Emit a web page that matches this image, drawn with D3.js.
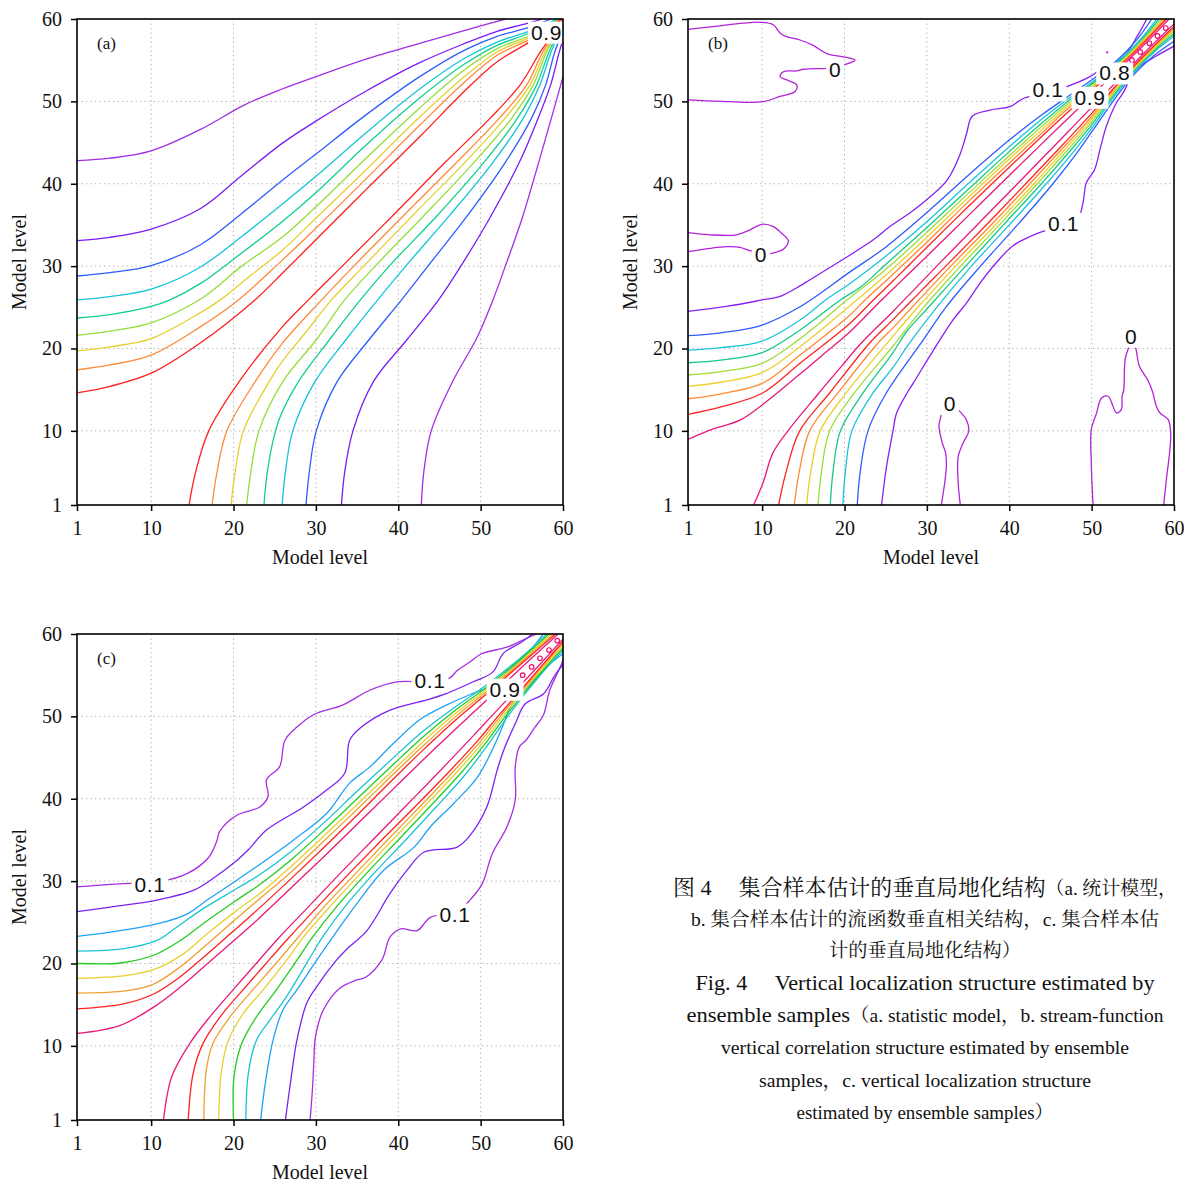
<!DOCTYPE html>
<html>
<head>
<meta charset="utf-8">
<script src="https://cdn.jsdelivr.net/npm/d3@7"></script>
<style>
  body { margin: 0; background: #fff; }
  svg { display: block; }
</style>
</head>
<body>
<svg id="fig" width="1192" height="1182"></svg>
<script>
// ---------------------------------------------------------------
// Axis ticks (model levels 1..60 on both axes)
// ---------------------------------------------------------------
const tickValues = [1, 10, 20, 30, 40, 50, 60];
const gridValues = [10, 20, 30, 40, 50];

// ---------------------------------------------------------------
// Contour lines: each array is the half above the diagonal
// (x = model level, y = model level). The correlation matrix is
// symmetric, so the lower half is the same line with x and y swapped.
// ---------------------------------------------------------------

// (a) statistic model, levels 0.1 .. 0.9
const aL1 = [[1,42.8],[5,43.1],[10,44.0],[16,46.6],[21.4,49.6],[25.9,51.5],[30,53.0],[36,55.1],[42.6,57.05],[48,58.6],[53,60]];
const aL2 = [[1,33.1],[5,33.5],[10,34.5],[16,37.0],[21,41.0],[25.9,44.9],[30,47.6],[36,51.2],[42.6,54.7],[48,57.0],[52,58.5],[56,59.55],[57.5,60]];
const aL3 = [[1,28.8],[5,29.2],[10,30.05],[16,32.6],[21,36.4],[25.9,40.4],[30,43.6],[36,48.3],[42.6,53.0],[48,56.2],[52,57.9],[56,59.0],[58.5,60]];
const aL4 = [[1,25.9],[5,26.3],[10,27.2],[16,29.9],[21,33.6],[25.9,37.5],[30,40.9],[36,46.1],[42.6,51.5],[48,55.2],[52,57.2],[56,58.55],[59.3,60]];
const aL5 = [[1,23.7],[5,24.1],[10,25.1],[12.3,25.9],[16,27.9],[21,31.6],[25.9,35.4],[30,38.9],[36,44.6],[42.6,50.4],[48,54.5],[52,56.8],[56,58.3],[59.6,60]];
const aL6 = [[1,21.6],[5,22.1],[10,23.1],[16,26.0],[21,30.0],[25.9,33.5],[30,37.2],[36,43.0],[42.6,49.2],[48,53.8],[52,56.4],[56,58.0],[59.7,60]];
const aL7 = [[1,19.7],[5,20.2],[10,21.2],[16,24.35],[18.4,25.9],[22,28.8],[25.9,31.9],[30,35.8],[36,41.6],[42.6,48.1],[48,53.0],[52,56.0],[56,57.8],[59.8,60]];
const aL8 = [[1,17.4],[5,18.0],[10,19.2],[16,22.65],[20.6,25.9],[25.9,30.7],[30,34.6],[36,40.5],[42.6,47.1],[48,52.3],[52,55.6],[56,57.55],[59.8,60]];
const aL9 = [[1,14.6],[5,15.4],[10,17.0],[16,20.7],[22.6,25.9],[25.9,29.1],[30,33.2],[36,39.2],[42.6,45.7],[48,51.2],[52,54.8],[56,57.25],[59.9,60]];
const aColors = ["#a12ee6","#7a1cf5","#2e5cff","#13c4da","#10cf8f","#95dd3c","#e6cf2e","#ff8a3a","#ff2020"];

// (b) stream-function correlation from the ensemble, levels 0 .. 0.9
const bZeroTop = [[1,58.75],[4.07,59.07],[7.7,59.5],[9.74,59.6],[11.36,59.3],[12.17,58.3],[12.98,57.85],[14.6,57.45],[16.2,56.8],[17.84,55.8],[19.85,55.4],[21.27,55.0],[19.85,54.4],[18.85,54.1],[17.84,54.0],[15.0,53.9],[14.2,53.7],[12.57,53.6],[12.17,53.0],[12.98,52.6],[14.2,52.0],[14.0,51.2],[12.17,50.6],[10.14,49.96],[6.1,49.96],[1,50.17]];
const bZeroMid = [[1,34.06],[3.67,33.8],[6.9,33.8],[8.53,34.4],[9.95,35.08],[11.36,34.79],[12.37,33.98],[13.18,33.1],[12.57,32.04],[11.36,31.6],[10.55,31.47],[8.53,31.87],[7.3,32.28],[5.7,32.36],[3.67,32.16],[1,31.75]];
const bL1 = [[1,24.5],[5.65,25.1],[10,25.89],[12.1,26.3],[14.6,27.6],[15.8,28.35],[19.8,30.8],[23.5,33.2],[25.5,34.8],[28,36.5],[30.5,38.5],[32.5,40.5],[34,43.5],[34.8,46.0],[35.5,48.2],[37.66,48.95],[40.1,49.35],[41.7,50.35],[44.5,51.1],[47.0,51.8],[49.8,53.0],[51.0,53.8],[53.85,55.4],[55.5,57.85],[56.7,60]];
const bL2 = [[1,21.55],[5,21.9],[10,22.85],[14.6,25.07],[20.67,29.3],[25,32.3],[30,36.5],[35,41.0],[40,45.3],[44,48.4],[47,50.5],[50,52.6],[53,54.9],[55.5,57.5],[57.3,60]];
const bL3 = [[1,19.8],[5,20.1],[10,20.9],[14.6,23.46],[17.7,25.89],[20.67,27.9],[25,31.2],[30,35.4],[35,40.0],[40,44.5],[44,47.9],[47,50.2],[50,52.3],[53,54.7],[56,57.6],[57.9,60]];
const bL4 = [[1,18.27],[5,18.6],[10,19.5],[14.6,22.25],[19.5,25.89],[22,27.5],[25,30.2],[30,34.7],[35,39.3],[40,43.9],[44,47.4],[47,49.9],[50,52.1],[53,54.5],[56,57.4],[58.2,60]];
const bL5 = [[1,16.78],[5,17.2],[10,18.2],[14.6,21.2],[20.3,25.89],[25,29.6],[30,34.1],[35,38.8],[40,43.4],[44,47.0],[47,49.6],[50,51.9],[53,54.3],[56,57.2],[58.5,60]];
const bL6 = [[1,15.4],[5,15.9],[10,17.06],[14.6,20.2],[21.5,25.89],[25,28.9],[30,33.5],[35,38.3],[40,43.0],[44,46.6],[47,49.3],[50,51.7],[53,54.2],[56,57.1],[58.7,60]];
const bL7 = [[1,13.9],[5,14.5],[10,15.77],[14.6,19.2],[20.67,24.07],[22.5,25.89],[25,28.2],[30,32.9],[35,37.8],[40,42.5],[44,46.2],[47,49.0],[50,51.5],[53,54.0],[56,56.9],[58.9,60]];
const bL8 = [[1,12.0],[5,12.9],[10,14.56],[14.6,18.2],[20.67,23.06],[23.5,25.89],[27,29.3],[30,32.3],[35,37.2],[40,42.0],[44,45.8],[47,48.6],[50,51.3],[53,53.9],[56,56.8],[59.1,60]];
const bL9 = [[1,8.97],[3.67,10.1],[7.3,11.3],[10,13.14],[14.6,16.9],[17.8,19.6],[20.67,22.04],[24.5,25.89],[27,28.3],[30,31.2],[35,36.1],[40,41.0],[44,44.9],[47,47.8],[50,50.7],[53,53.6],[56,56.5],[59.4,60]];
const bColors = ["#8a20f0","#2f5bff","#1ac3dc","#14c98a","#a0dc3a","#ecd02a","#ff8a33","#ff2222","#e8197a"];
const bZeroColor = "#b422d8";
const bLoops = [[54.9,55.0],[55.9,56.0],[57.0,57.05],[58.0,57.95],[59.0,58.9]];
const bDots = [[51.9,55.95]];

// (c) localization from the ensemble, levels 0.1 .. 0.9
const cL1 = [[1,29.3],[5,29.6],[8,29.75],[11.1,29.95],[14.35,30.9],[17.0,32.9],[18.0,34.95],[18.3,36.0],[20.4,38.0],[23.2,39.0],[24.2,40.3],[24.0,42.3],[25.6,43.9],[26.25,47.1],[27.7,48.7],[29.7,50.2],[33.3,51.4],[36.6,53.2],[39.8,54.2],[43.85,54.2],[46.3,54.7],[47.1,55.5],[48.7,56.6],[50.1,57.6],[53.2,58.4],[55.2,59.3],[56.8,60]];
const cL2 = [[1,26.3],[5.05,26.85],[10.7,27.7],[15.2,28.9],[17.2,30.1],[20.4,32.5],[21.8,33.8],[24.0,36.2],[28.5,39.0],[31.3,41.05],[33.5,43.1],[34.1,47.1],[35.35,48.55],[39.0,50.75],[43.45,52.0],[45.9,52.8],[49.1,54.2],[51.5,55.4],[52.75,57.65],[54.8,58.9],[56.3,60]];
const cL3 = [[1,23.3],[5.05,23.8],[10.7,24.8],[14.35,26.0],[16.8,27.7],[20.4,30.1],[24,32.6],[27.3,35.0],[31.3,38.2],[34.1,41.9],[36.6,43.9],[39.4,46.7],[42.6,49.6],[45.9,51.4],[49.1,52.8],[51.1,53.6],[53.5,55.6],[56,58.0],[57.6,60]];
const cL4 = [[1,21.5],[6.67,21.8],[10.7,22.8],[13.1,24.4],[16.0,26.45],[20.4,29.1],[23.2,30.8],[27,33.6],[31,37.1],[35,40.9],[39,44.6],[43,48.2],[47,51.2],[50,53.3],[53,55.6],[56,58.1],[58,60]];
const cL5 = [[1,20.0],[6.26,20.06],[10.3,21.0],[13.55,22.8],[16.8,25.2],[20.4,27.7],[23.2,29.6],[27,32.6],[31,36.2],[35,40.0],[39,43.8],[43,47.5],[47,50.8],[50,53.0],[53,55.4],[56,57.9],[58.3,60]];
const cL6 = [[1,18.2],[7.07,18.55],[10.7,19.4],[13.96,21.2],[16.8,23.6],[20.4,26.45],[23.2,28.5],[27,31.8],[31,35.5],[35,39.3],[39,43.1],[43,46.9],[47,50.4],[50,52.7],[53,55.1],[56,57.7],[58.6,60]];
const cL7 = [[1,16.4],[7.07,16.7],[10.3,17.5],[13.55,19.6],[16.4,22.0],[19.6,24.8],[23,27.7],[27,31.1],[31,34.9],[35,38.7],[39,42.6],[43,46.4],[47,50.0],[50,52.4],[53,54.9],[56,57.5],[58.9,60]];
const cL8 = [[1,14.5],[6.67,15.1],[10.3,16.3],[13.55,18.4],[16.4,20.8],[19.6,23.6],[23,26.6],[27,30.3],[31,34.1],[35,38.0],[39,42.0],[43,45.9],[47,49.6],[50,52.1],[53,54.7],[56,57.3],[59.1,60]];
const cL9 = [[1,11.5],[6.26,12.5],[10.3,14.7],[13.55,17.15],[16.4,19.6],[19.6,22.4],[23,25.4],[27,29.2],[31,33.0],[35,36.9],[39,40.8],[43,44.7],[47,48.5],[50,51.3],[53,54.1],[56,56.9],[59.4,60]];
const cColors = ["#a62ee0","#7c22f0","#1fa2f5","#18c4d4","#22cc22","#e8d02e","#f0a030","#ff2020","#e8197a"];
const cLoops = [[55.1,55.0],[56.2,56.0],[57.2,57.05],[58.3,58.05],[59.3,59.2]];
const loopColor = "#f0106a";

// Contour labels: text and the model-level position it sits on
const aLabelText = ["0.9"];
const aLabelPos = [[58.0,58.4]];
const bLabelText = ["0","0","0","0","0.1","0.1","0.9","0.8"];
const bLabelPos = [[18.85,53.9],[9.86,31.35],[32.8,13.3],[54.8,21.5],[44.7,51.4],[46.6,35.2],[49.8,50.5],[52.8,53.45]];
const cLabelText = ["0.1","0.1","0.9","0.1"];
const cLabelPos = [[9.86,29.65],[43.85,54.3],[52.96,53.3],[46.9,26.0]];

// ---------------------------------------------------------------
const svg = d3.select("#fig");
const SERIF = "'Liberation Serif','Times New Roman',serif";
const SANS = "'Liberation Sans',Arial,sans-serif";
const CJK = "'Liberation Serif','Noto Serif CJK SC','Noto Sans CJK SC',serif";

const mirror = pts => pts.map(([u, v]) => [v, u]);

function drawPanel(cfg) {
  const x = d3.scaleLinear().domain([1, 60]).range([cfg.left, cfg.right]);
  const y = d3.scaleLinear().domain([1, 60]).range([cfg.bottom, cfg.top]);
  const g = svg.append("g");

  // dotted grid
  g.selectAll("line.gx").data(gridValues).join("line")
    .attr("x1", d => x(d)).attr("x2", d => x(d))
    .attr("y1", cfg.top).attr("y2", cfg.bottom)
    .attr("stroke", "#b0b0b0").attr("stroke-width", 1).attr("stroke-dasharray", "1.3,3.2");
  g.selectAll("line.gy").data(gridValues).join("line")
    .attr("y1", d => y(d)).attr("y2", d => y(d))
    .attr("x1", cfg.left).attr("x2", cfg.right)
    .attr("stroke", "#b0b0b0").attr("stroke-width", 1).attr("stroke-dasharray", "1.3,3.2");

  // clip to the plotting box
  const clipId = "clip-" + cfg.id;
  svg.append("clipPath").attr("id", clipId).append("rect")
    .attr("x", cfg.left).attr("y", cfg.top)
    .attr("width", cfg.right - cfg.left).attr("height", cfg.bottom - cfg.top);
  const plot = g.append("g").attr("clip-path", `url(#${clipId})`);

  const line = d3.line().x(d => x(d[0])).y(d => y(d[1])).curve(d3.curveCatmullRom.alpha(0.5));

  cfg.lines.forEach((pts, i) => {
    [pts, mirror(pts)].forEach(p => {
      plot.append("path").attr("d", line(p))
        .attr("fill", "none").attr("stroke", cfg.colors[i])
        .attr("stroke-width", 1.3).attr("stroke-linejoin", "round");
    });
  });

  (cfg.loops || []).forEach(c => {
    plot.append("circle").attr("cx", x(c[0])).attr("cy", y(c[1])).attr("r", 2.3)
      .attr("fill", "none").attr("stroke", loopColor).attr("stroke-width", 1.2);
  });
  (cfg.dots || []).forEach(c => {
    plot.append("circle").attr("cx", x(c[0])).attr("cy", y(c[1])).attr("r", 0.9)
      .attr("fill", "none").attr("stroke", bZeroColor).attr("stroke-width", 1);
  });

  // contour labels on white boxes
  cfg.labelText.forEach((t, i) => {
    const [lx, ly] = cfg.labelPos[i];
    const lg = plot.append("g");
    const txt = lg.append("text").attr("x", x(lx)).attr("y", y(ly))
      .attr("text-anchor", "middle").attr("dominant-baseline", "central")
      .attr("font-family", SANS).attr("font-size", 21).attr("letter-spacing", 0.6)
      .attr("fill", "#111").text(t);
    const bb = txt.node().getBBox();
    lg.insert("rect", "text")
      .attr("x", bb.x - 3).attr("y", bb.y + 1)
      .attr("width", bb.width + 6).attr("height", bb.height - 1)
      .attr("fill", "#fff");
  });

  // axes
  const xAxis = d3.axisBottom(x).tickValues(tickValues).tickSize(6).tickSizeOuter(0).tickPadding(10).tickFormat(d3.format("d"));
  const yAxis = d3.axisLeft(y).tickValues(tickValues).tickSize(6).tickSizeOuter(0).tickPadding(9).tickFormat(d3.format("d"));
  const gx = g.append("g").attr("transform", `translate(0,${cfg.bottom})`).call(xAxis);
  const gy = g.append("g").attr("transform", `translate(${cfg.left},0)`).call(yAxis);
  [gx, gy].forEach(a => {
    a.select(".domain").remove();
    a.selectAll(".tick line").attr("stroke", "#000").attr("stroke-width", 1.5);
    a.selectAll(".tick text").attr("font-family", SERIF).attr("font-size", 20).attr("fill", "#111");
  });

  // frame
  g.append("rect").attr("x", cfg.left).attr("y", cfg.top)
    .attr("width", cfg.right - cfg.left).attr("height", cfg.bottom - cfg.top)
    .attr("fill", "none").attr("stroke", "#000").attr("stroke-width", 1.6);

  // titles
  g.append("text").attr("x", (cfg.left + cfg.right) / 2).attr("y", cfg.bottom + 59)
    .attr("text-anchor", "middle").attr("font-family", SERIF).attr("font-size", 20).attr("fill", "#111")
    .text("Model level");
  g.append("text")
    .attr("transform", `translate(${cfg.left - 51},${(cfg.top + cfg.bottom) / 2}) rotate(-90)`)
    .attr("text-anchor", "middle").attr("font-family", SERIF).attr("font-size", 20).attr("fill", "#111")
    .text("Model level");
  g.append("text").attr("x", cfg.left + 20).attr("y", cfg.top + 30)
    .attr("font-family", SERIF).attr("font-size", 17).attr("fill", "#111").text(cfg.tag);
}

drawPanel({ id: "a", tag: "(a)", left: 77, right: 563, top: 19, bottom: 505,
  lines: [aL1, aL2, aL3, aL4, aL5, aL6, aL7, aL8, aL9], colors: aColors,
  labelText: aLabelText, labelPos: aLabelPos });

drawPanel({ id: "b", tag: "(b)", left: 688, right: 1174, top: 19, bottom: 505,
  lines: [bZeroTop, bZeroMid, bL1, bL2, bL3, bL4, bL5, bL6, bL7, bL8, bL9],
  colors: [bZeroColor, bZeroColor].concat(bColors),
  loops: bLoops, dots: bDots, labelText: bLabelText, labelPos: bLabelPos });

drawPanel({ id: "c", tag: "(c)", left: 77, right: 563, top: 634, bottom: 1120,
  lines: [cL1, cL2, cL3, cL4, cL5, cL6, cL7, cL8, cL9], colors: cColors,
  loops: cLoops, labelText: cLabelText, labelPos: cLabelPos });

// ---------------------------------------------------------------
// Figure caption
// ---------------------------------------------------------------
const capX = 925;
const caption = [
  { y: 895, len: 504, parts: [["图 4\u3000 集合样本估计的垂直局地化结构", 22], ["（a. 统计模型，", 19]] },
  { y: 926, len: 468, parts: [["b. 集合样本估计的流函数垂直相关结构，c. 集合样本估", 19]] },
  { y: 957, len: 192, parts: [["计的垂直局地化结构）", 19]] },
  { y: 990, len: 459, parts: [["Fig. 4\u2003 Vertical localization structure estimated by", 22]] },
  { y: 1022, len: 477, parts: [["ensemble samples", 22], ["（a. statistic model，b. stream-function", 19]] },
  { y: 1054, len: 408, parts: [["vertical correlation structure estimated by ensemble", 19]] },
  { y: 1087, len: 332, parts: [["samples，c. vertical localization structure", 19]] },
  { y: 1119, len: 257, parts: [["estimated by ensemble samples）", 19]] }
];
caption.forEach(l => {
  const t = svg.append("text").attr("x", capX).attr("y", l.y)
    .attr("text-anchor", "middle").attr("font-family", CJK).attr("fill", "#111")
    .attr("textLength", l.len).attr("lengthAdjust", "spacingAndGlyphs");
  l.parts.forEach(([s, fs]) => t.append("tspan").attr("font-size", fs).text(s));
});
</script>
</body>
</html>
